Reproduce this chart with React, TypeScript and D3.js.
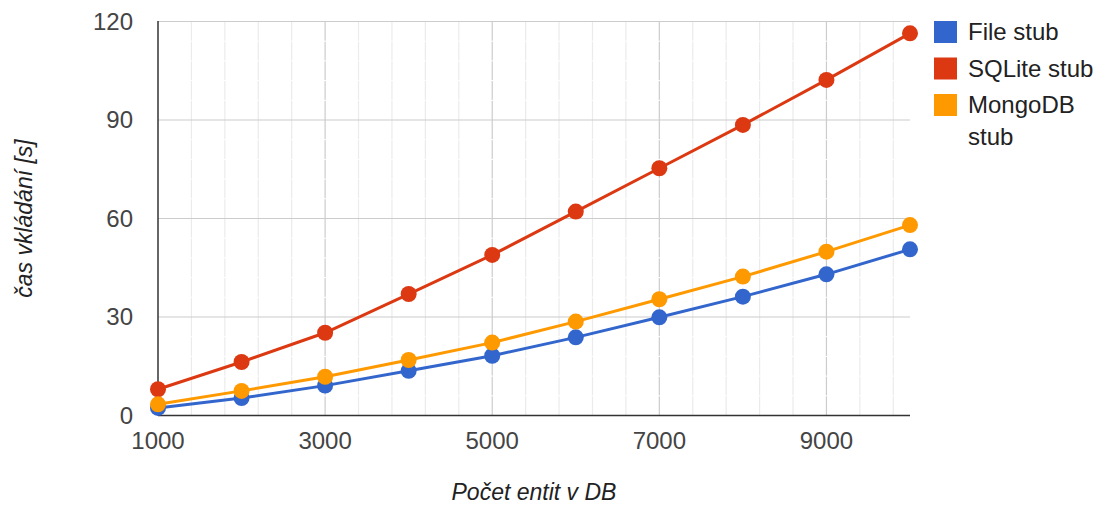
import React from 'react';
import * as d3 from 'd3';

// počet entit
const entityCounts = [1000, 2000, 3000, 4000, 5000, 6000, 7000, 8000, 9000, 10000];
// čas vkládání [s]
const fileStub = [2.3, 5.3, 9.1, 13.6, 18.2, 23.8, 29.9, 36.2, 43.0, 50.6];
const sqliteStub = [8.0, 16.3, 25.2, 37.0, 48.9, 62.1, 75.3, 88.5, 102.2, 116.4];
const mongoStub = [3.4, 7.5, 11.8, 16.9, 22.2, 28.6, 35.4, 42.3, 49.9, 58.0];

const seriesNames = ['File stub', 'SQLite stub', 'MongoDB stub'];
const seriesColors = ['#3366cc', '#dc3912', '#ff9900'];

const xTicks = [1000, 3000, 5000, 7000, 9000];
const yTicks = [0, 30, 60, 90, 120];

const W = 1093;
const H = 506;
const margin = { top: 21.5, right: 183, bottom: 90.5, left: 158 };
const FONT = '"Liberation Sans", Arial, sans-serif';

export default function App() {
  const x = d3.scaleLinear()
    .domain([1000, 10000])
    .range([margin.left, W - margin.right]);
  const y = d3.scaleLinear()
    .domain([0, 120])
    .range([H - margin.bottom, margin.top]);

  const x0 = x.range()[0];
  const x1 = x.range()[1];
  const y0 = y.range()[0];
  const y1 = y.range()[1];

  // minor gridlines: 4 between each pair of major ones
  const xMinor = d3.range(1000, 10001, 400).filter(v => (v - 1000) % 2000 !== 0);
  const yMinor = d3.range(0, 121, 6).filter(v => v % 30 !== 0);

  const series = [fileStub, sqliteStub, mongoStub];
  const line = d3.line<number>()
    .x((_, i) => x(entityCounts[i]))
    .y(d => y(d));

  return (
    <svg width={W} height={H} style={{ position: 'absolute', left: 0, top: 0, background: '#fff' }}>
      {/* minor vertical gridlines */}
      {xMinor.map(v => (
        <line key={'xm' + v} x1={x(v)} x2={x(v)} y1={y1} y2={y0} stroke="#ebebeb" strokeWidth={1.2} />
      ))}
      {/* major vertical gridlines */}
      {xTicks.slice(1).map(v => (
        <line key={'xM' + v} x1={x(v)} x2={x(v)} y1={y1} y2={y0} stroke="#cccccc" strokeWidth={1.2} />
      ))}
      {/* minor horizontal gridlines (white) */}
      {yMinor.map(v => (
        <line key={'ym' + v} x1={x0} x2={x1} y1={y(v)} y2={y(v)} stroke="#ffffff" strokeWidth={1} />
      ))}
      {/* major horizontal gridlines */}
      {yTicks.slice(1).map(v => (
        <line key={'yM' + v} x1={x0} x2={x1} y1={y(v)} y2={y(v)} stroke="#cccccc" strokeWidth={1.2} />
      ))}

      {/* axes */}
      <line x1={x0} x2={x0} y1={y1 - 0.5} y2={y0} stroke="#333" strokeWidth={1.5} />
      <line x1={x0} x2={x1} y1={y0} y2={y0} stroke="#333" strokeWidth={1.5} />

      {/* y tick labels */}
      {yTicks.map(v => (
        <text key={'yl' + v} x={133} y={y(v)} dy="0.35em" textAnchor="end"
          fontFamily={FONT} fontSize={24} fill="#444">{v}</text>
      ))}
      {/* x tick labels */}
      {xTicks.map(v => (
        <text key={'xl' + v} x={x(v)} y={449} textAnchor="middle"
          fontFamily={FONT} fontSize={24} fill="#444">{v}</text>
      ))}

      {/* series */}
      {series.map((s, si) => (
        <g key={'s' + si}>
          <path d={line(s) || ''} fill="none" stroke={seriesColors[si]} strokeWidth={3} />
          {s.map((v, i) => (
            <circle key={i} cx={x(entityCounts[i])} cy={y(v)} r={8} fill={seriesColors[si]} />
          ))}
        </g>
      ))}

      {/* axis titles */}
      <text x={(x0 + x1) / 2} y={500} textAnchor="middle" fontFamily={FONT}
        fontSize={23} fontStyle="italic" fill="#222">Počet entit v DB</text>
      <text transform={`translate(32,${(y0 + y1) / 2}) rotate(-90)`} textAnchor="middle"
        fontFamily={FONT} fontSize={23} fontStyle="italic" fill="#222">čas vkládání [s]</text>

      {/* legend */}
      <g fontFamily={FONT} fontSize={24} fill="#222">
        {seriesNames.map((name, i) => {
          const top = 21 + i * 36.5;
          const words = i === 2 ? ['MongoDB', 'stub'] : [name];
          return (
            <g key={'lg' + i}>
              <rect x={934} y={top} width={23} height={22} fill={seriesColors[i]} />
              {words.map((w, wi) => (
                <text key={wi} x={968} y={top + 19 + wi * 32}>{w}</text>
              ))}
            </g>
          );
        })}
      </g>
    </svg>
  );
}
